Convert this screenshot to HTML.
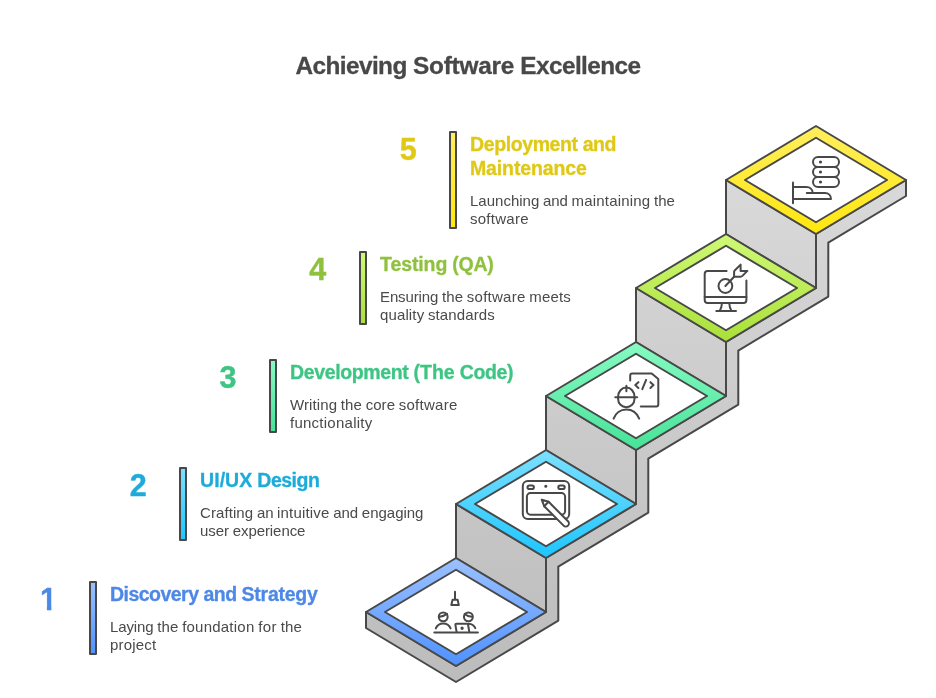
<!DOCTYPE html>
<html lang="en">
<head>
<meta charset="utf-8">
<title>Achieving Software Excellence</title>
<style>
html,body{margin:0;padding:0;background:#fff;}
body{width:936px;height:698px;overflow:hidden;}
svg{display:block;will-change:transform;}
text{font-family:"Liberation Sans",sans-serif;white-space:pre;}
</style>
</head>
<body>
<svg width="936" height="698" viewBox="0 0 936 698">
<defs>
<linearGradient id="g5" x1="0" y1="0" x2="0" y2="1"><stop offset="0" stop-color="#ffee5e"/><stop offset="1" stop-color="#ffe70f"/></linearGradient>
<linearGradient id="g4" x1="0" y1="0" x2="0" y2="1"><stop offset="0" stop-color="#cff976"/><stop offset="1" stop-color="#aae039"/></linearGradient>
<linearGradient id="g3" x1="0" y1="0" x2="0" y2="1"><stop offset="0" stop-color="#87fbc3"/><stop offset="1" stop-color="#48e298"/></linearGradient>
<linearGradient id="g2" x1="0" y1="0" x2="0" y2="1"><stop offset="0" stop-color="#7ce0ff"/><stop offset="1" stop-color="#1dc6ff"/></linearGradient>
<linearGradient id="g1" x1="0" y1="0" x2="0" y2="1"><stop offset="0" stop-color="#9bc1ff"/><stop offset="1" stop-color="#5092ff"/></linearGradient>
<linearGradient id="gside" gradientUnits="userSpaceOnUse" x1="0" y1="180" x2="0" y2="682"><stop offset="0" stop-color="#d9d9d9"/><stop offset="1" stop-color="#bcbcbc"/></linearGradient>
<clipPath id="clip1"><polygon points="30,575 51.35,575 51.35,620 46.9,620 46.9,605 30,605"/></clipPath>
</defs>
<rect width="936" height="698" fill="#fff"/>
<g stroke="#484848" stroke-width="2" stroke-linejoin="round" stroke-linecap="round">
<polygon points="906,180 816,234 816,288 726,342 726,396 636,450 636,504 546,558 546,612 456,666 366,612 366,628 456,682 558.3,620.62 558.3,566.62 648.3,512.62 648.3,458.62 738.3,404.62 738.3,350.62 828.3,296.62 828.3,242.62 906,196" fill="url(#gside)"/>
<polygon points="456,504 546,558 546,612 456,558" fill="url(#gside)"/>
<polygon points="546,396 636,450 636,504 546,450" fill="url(#gside)"/>
<polygon points="636,288 726,342 726,396 636,342" fill="url(#gside)"/>
<polygon points="726,180 816,234 816,288 726,234" fill="url(#gside)"/>
<polygon points="456,558 546,612 456,666 366,612" fill="url(#g1)"/>
<polygon points="456,569.75 527,612 456,654.25 385,612" fill="#fff"/>
<polygon points="546,450 636,504 546,558 456,504" fill="url(#g2)"/>
<polygon points="546,461.75 617,504 546,546.25 475,504" fill="#fff"/>
<polygon points="636,342 726,396 636,450 546,396" fill="url(#g3)"/>
<polygon points="636,353.75 707,396 636,438.25 565,396" fill="#fff"/>
<polygon points="726,234 816,288 726,342 636,288" fill="url(#g4)"/>
<polygon points="726,245.75 797,288 726,330.25 655,288" fill="#fff"/>
<polygon points="816,126 906,180 816,234 726,180" fill="url(#g5)"/>
<polygon points="816,137.75 887,180 816,222.25 745,180" fill="#fff"/>
</g>
<rect x="450" y="132" width="6" height="96" fill="url(#g5)" stroke="#484848" stroke-width="2" stroke-linejoin="round"/>
<text y="159.7" font-size="30.5" font-weight="bold" fill="#e0c914" class="num" stroke="#e0c914" stroke-width="0.4" stroke-linejoin="round"><tspan x="399.71" letter-spacing="0.823">5</tspan></text>
<text y="150.7" font-size="19.5" font-weight="bold" fill="#e0c914" class="head" stroke="#e0c914" stroke-width="0.3" stroke-linejoin="round"><tspan x="470" letter-spacing="-0.395">Deployment</tspan> <tspan x="582.63" letter-spacing="-0.498">and</tspan></text>
<text y="174.7" font-size="19.5" font-weight="bold" fill="#e0c914" class="head" stroke="#e0c914" stroke-width="0.3" stroke-linejoin="round"><tspan x="470" letter-spacing="-0.135">Maintenance</tspan></text>
<text y="205.9" font-size="15" font-weight="normal" fill="#4a4a4a" class="desc"><tspan x="470" letter-spacing="0.003">Launching</tspan> <tspan x="542.98" letter-spacing="-0.042">and</tspan> <tspan x="571.6" letter-spacing="0.171">maintaining</tspan> <tspan x="653.92" letter-spacing="0.090">the</tspan></text>
<text y="223.9" font-size="15" font-weight="normal" fill="#4a4a4a" class="desc"><tspan x="470" letter-spacing="0.257">software</tspan></text>
<rect x="360" y="252" width="6" height="72" fill="url(#g4)" stroke="#484848" stroke-width="2" stroke-linejoin="round"/>
<text y="279.7" font-size="30.5" font-weight="bold" fill="#8fc13e" class="num" stroke="#8fc13e" stroke-width="0.4" stroke-linejoin="round"><tspan x="309.31" letter-spacing="0.823">4</tspan></text>
<text y="270.7" font-size="19.5" font-weight="bold" fill="#8fc13e" class="head" stroke="#8fc13e" stroke-width="0.3" stroke-linejoin="round"><tspan x="380" letter-spacing="-0.089">Testing</tspan> <tspan x="452.23" letter-spacing="-0.249">(QA)</tspan></text>
<text y="301.9" font-size="15" font-weight="normal" fill="#4a4a4a" class="desc"><tspan x="380" letter-spacing="-0.118">Ensuring</tspan> <tspan x="441.98" letter-spacing="0.090">the</tspan> <tspan x="466.82" letter-spacing="0.257">software</tspan> <tspan x="529.29" letter-spacing="0.173">meets</tspan></text>
<text y="319.9" font-size="15" font-weight="normal" fill="#4a4a4a" class="desc"><tspan x="380" letter-spacing="0.128">quality</tspan> <tspan x="427.97" letter-spacing="0.109">standards</tspan></text>
<rect x="270" y="360" width="6" height="72" fill="url(#g3)" stroke="#484848" stroke-width="2" stroke-linejoin="round"/>
<text y="387.7" font-size="30.5" font-weight="bold" fill="#3cc583" class="num" stroke="#3cc583" stroke-width="0.4" stroke-linejoin="round"><tspan x="219.41" letter-spacing="0.823">3</tspan></text>
<text y="378.7" font-size="19.5" font-weight="bold" fill="#3cc583" class="head" stroke="#3cc583" stroke-width="0.3" stroke-linejoin="round"><tspan x="290" letter-spacing="-0.367">Development</tspan> <tspan x="413.38" letter-spacing="0.056">(The</tspan> <tspan x="459.74" letter-spacing="-0.357">Code)</tspan></text>
<text y="409.9" font-size="15" font-weight="normal" fill="#4a4a4a" class="desc"><tspan x="290" letter-spacing="0.107">Writing</tspan> <tspan x="340.87" letter-spacing="0.090">the</tspan> <tspan x="365.71" letter-spacing="0.031">core</tspan> <tspan x="398.74" letter-spacing="0.257">software</tspan></text>
<text y="427.9" font-size="15" font-weight="normal" fill="#4a4a4a" class="desc"><tspan x="290" letter-spacing="0.251">functionality</tspan></text>
<rect x="180" y="468" width="6" height="72" fill="url(#g2)" stroke="#484848" stroke-width="2" stroke-linejoin="round"/>
<text y="495.7" font-size="30.5" font-weight="bold" fill="#1eabda" class="num" stroke="#1eabda" stroke-width="0.4" stroke-linejoin="round"><tspan x="129.66" letter-spacing="0.823">2</tspan></text>
<text y="486.7" font-size="19.5" font-weight="bold" fill="#1eabda" class="head" stroke="#1eabda" stroke-width="0.3" stroke-linejoin="round"><tspan x="200" letter-spacing="0.066">UI/UX</tspan> <tspan x="257.3" letter-spacing="-0.502">Design</tspan></text>
<text y="517.9" font-size="15" font-weight="normal" fill="#4a4a4a" class="desc"><tspan x="200" letter-spacing="0.083">Crafting</tspan> <tspan x="256.91" letter-spacing="-0.121">an</tspan> <tspan x="277.07" letter-spacing="0.175">intuitive</tspan> <tspan x="333.23" letter-spacing="-0.042">and</tspan> <tspan x="361.85" letter-spacing="-0.016">engaging</tspan></text>
<text y="535.9" font-size="15" font-weight="normal" fill="#4a4a4a" class="desc"><tspan x="200" letter-spacing="-0.033">user</tspan> <tspan x="232.77" letter-spacing="-0.083">experience</tspan></text>
<rect x="90" y="582" width="6" height="72" fill="url(#g1)" stroke="#484848" stroke-width="2" stroke-linejoin="round"/>
<text y="609.7" font-size="30.5" font-weight="bold" fill="#4e88e7" class="num" stroke="#4e88e7" stroke-width="0.4" stroke-linejoin="round" clip-path="url(#clip1)"><tspan x="39.91" letter-spacing="0.823">1</tspan></text>
<text y="600.7" font-size="19.5" font-weight="bold" fill="#4e88e7" class="head" stroke="#4e88e7" stroke-width="0.3" stroke-linejoin="round"><tspan x="110" letter-spacing="-0.525">Discovery</tspan> <tspan x="203.47" letter-spacing="-0.498">and</tspan> <tspan x="241.61" letter-spacing="-0.273">Strategy</tspan></text>
<text y="631.9" font-size="15" font-weight="normal" fill="#4a4a4a" class="desc"><tspan x="110" letter-spacing="-0.104">Laying</tspan> <tspan x="157.3" letter-spacing="0.090">the</tspan> <tspan x="182.14" letter-spacing="0.227">foundation</tspan> <tspan x="258.2" letter-spacing="0.449">for</tspan> <tspan x="280.77" letter-spacing="0.090">the</tspan></text>
<text y="649.9" font-size="15" font-weight="normal" fill="#4a4a4a" class="desc"><tspan x="110" letter-spacing="0.171">project</tspan></text>
<text y="73.8" font-size="24.38" font-weight="bold" fill="#484848" class="title" stroke="#484848" stroke-width="0.3" stroke-linejoin="round"><tspan x="295.4" letter-spacing="-0.570">Achieving</tspan> <tspan x="412.97" letter-spacing="-0.233">Software</tspan> <tspan x="520.26" letter-spacing="-0.569">Excellence</tspan></text>
<g fill="none" stroke="#484848" stroke-width="2" stroke-linecap="round" stroke-linejoin="round">
<!-- icon 5: server in hand -->
<g>
<rect x="813" y="157" width="26" height="10" rx="5"/>
<rect x="813" y="167" width="26" height="10" rx="5"/>
<rect x="813" y="177" width="26" height="10" rx="5"/>
<g fill="#484848" stroke-width="1.3"><circle cx="820.5" cy="162" r="0.9"/><circle cx="820.5" cy="172" r="0.9"/><circle cx="820.5" cy="182" r="0.9"/></g>
<path d="M793 182.5V203.2"/>
<path d="M793 187H806.5C810 187 812.5 189.6 812.8 192.8"/>
<path d="M806.8 193H825C828.5 193 831 195.5 831 199H793"/>
</g>
<!-- icon 4: monitor target -->
<g>
<path d="M726.6 271H707.6C706 271 704.7 272.3 704.7 273.9V300C704.7 301.6 706 302.9 707.6 302.9H743.5C745.1 302.9 746.4 301.6 746.4 300V280.5"/>
<path d="M704.7 297H746.4"/>
<path d="M722 303C721.8 306 721 309 719.6 311M729.2 303C729.4 306 730.2 309 731.6 311M716.3 311H736"/>
<circle cx="725.4" cy="286" r="6.9"/>
<path d="M725.4 286L734.1 276.7"/>
<path d="M734.1 276.7V272C734.1 271.4 734.3 270.9 734.7 270.5L740.6 264.6V270.9H747.4L742.4 275.9C741.9 276.4 741.3 276.7 740.6 276.7Z"/>
</g>
<!-- icon 3: engineer + code file -->
<g transform="translate(0 0.25)">
<path d="M630.2 380.2V375.3C630.2 374.2 631.1 373.3 632.2 373.3H651.7L658.3 378.7V404.2C658.3 405.3 657.4 406.2 656.3 406.2H640.8"/>
<path d="M638.4 381.9L635.3 384.8L638.4 387.7M650.4 381.9L653.5 384.8L650.4 387.7M646.1 379.6L642.3 388.9"/>
<path d="M618.1 396.6C618.1 391.3 621.7 387.3 626.3 387.3C630.9 387.3 634.5 391.3 634.5 396.6V398.8C634.5 403.4 630.9 406.9 626.3 406.9C621.7 406.9 618.1 403.4 618.1 398.8Z"/>
<path d="M615.3 397.1H637.1M626.4 385.5V390.9"/>
<path d="M613.6 418.4C615.5 413 620.3 409.2 626.3 409.2C632.3 409.2 637.1 413 639.2 418.4"/>
</g>
<!-- icon 2: tablet + pen -->
<g transform="translate(0 0.2)">
<rect x="522.8" y="480.9" width="46.4" height="37.9" rx="5"/>
<rect x="526.9" y="492.9" width="38.2" height="21.6" rx="3.6"/>
<rect x="527.5" y="485.2" width="6.4" height="3.6" rx="1.8"/>
<rect x="558.3" y="485.2" width="6.4" height="3.6" rx="1.8"/>
<circle cx="545.8" cy="486" r="0.9" fill="#484848" stroke-width="1.3"/>
<path fill="#fff" d="M541.8 499.6L548.6 501.6L568 521C569.2 522.2 569.2 524.2 568 525.4C566.8 526.6 564.8 526.6 563.6 525.4L544.2 506Z"/>
<path d="M544.2 506L548.6 501.6"/>
</g>
<!-- icon 1: team at desk -->
<g transform="translate(0 0.25)">
<path d="M455 591.6V599.4M452.6 599.45H457.6L458.8 604.85H451.3Z"/>
<circle cx="443.2" cy="616.6" r="4.45"/>
<circle cx="468.4" cy="616.6" r="4.45"/>
<path d="M439.6 616.6C442.6 616.3 445.2 615.2 447 613.6"/>
<path d="M464.6 613.8C466.4 615.4 469 616.3 472 616.4"/>
<path d="M435.8 628.2C437 625.3 439.8 623.3 443.2 623.3C446.6 623.3 449.4 625.3 450.6 628.2"/>
<path d="M468.6 623.4C471.6 623.6 474.2 625.3 475.3 627.9"/>
<path d="M456.6 631.6L455.4 624.6C455.3 623.9 455.8 623.4 456.5 623.4H466.8C467.5 623.4 468 623.9 468.1 624.5L469.3 631.6"/>
<circle cx="462.1" cy="628" r="1" fill="#484848" stroke-width="1.3"/>
<path d="M434.3 632.2H477.9"/>
</g>

</g>
</svg>
</body>
</html>
